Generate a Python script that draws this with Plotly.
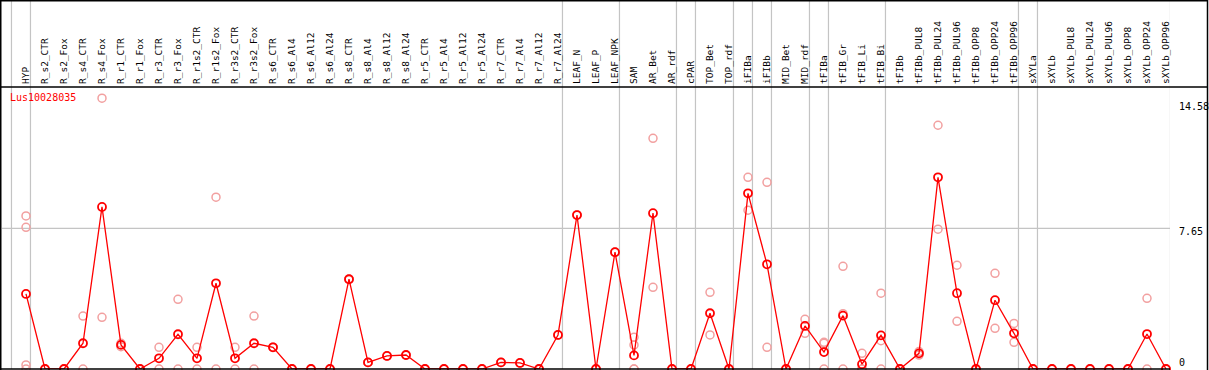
import plotly.graph_objects as go

categories = ["HYP", "R_s2_CTR", "R_s2_Fox", "R_s4_CTR", "R_s4_Fox", "R_r1_CTR", "R_r1_Fox",
              "R_r3_CTR", "R_r3_Fox", "R_r1s2_CTR", "R_r1s2_Fox", "R_r3s2_CTR", "R_r3s2_Fox",
              "R_s6_CTR", "R_s6_Al4", "R_s6_Al12", "R_s6_Al24", "R_s8_CTR", "R_s8_Al4", "R_s8_Al12",
              "R_s8_Al24", "R_r5_CTR", "R_r5_Al4", "R_r5_Al12", "R_r5_Al24", "R_r7_CTR", "R_r7_Al4",
              "R_r7_Al12", "R_r7_Al24", "LEAF_N", "LEAF_P", "LEAF_NPK", "SAM", "AR_Bet", "AR_rdf",
              "cPAR", "TOP_Bet", "TOP_rdf", "iFIBa", "iFIBb", "MID_Bet", "MID_rdf", "tFIBa",
              "tFIB_Gr", "tFIB_Li", "tFIB_Bi", "tFIBb", "tFIBb_PUL8", "tFIBb_PUL24", "tFIBb_PUL96",
              "tFIBb_OPP8", "tFIBb_OPP24", "tFIBb_OPP96", "sXYLa", "sXYLb", "sXYLb_PUL8",
              "sXYLb_PUL24", "sXYLb_PUL96", "sXYLb_OPP8", "sXYLb_OPP24", "sXYLb_OPP96"]

mean_values = [4.08, 0, 0, 1.40, 8.81, 1.31, 0, 0.58, 1.89, 0.58, 4.66, 0.58, 1.40,
               1.18, 0, 0, 0, 4.88, 0.36, 0.71, 0.76, 0, 0, 0, 0, 0.36, 0.33, 0, 1.85,
               8.37, 0, 6.35, 0.74, 8.47, 0, 0, 3.03, 0, 9.55, 5.69, 0, 2.34, 0.92,
               2.90, 0.26, 1.83, 0, 0.85, 10.42, 4.12, 0, 3.74, 1.94, 0, 0, 0, 0, 0, 0,
               1.90, 0]

replicate_values = [[8.32, 7.70, 0.22, 0], [0, 0], [0, 0], [2.88, 0], [14.72, 2.81],
                    [1.40, 1.21], [0, 0], [1.18, 0], [3.79, 0], [1.18, 0], [9.34, 0],
                    [1.18, 0], [2.88, 0], [1.18, 1.18], [0, 0], [0, 0], [0, 0],
                    [4.88, 4.88], [0.36, 0.36], [0.71, 0.71], [0.76, 0.76], [0, 0], [0, 0],
                    [0, 0], [0, 0], [0.36, 0.36], [0.33, 0.33], [0, 0], [1.85, 1.85],
                    [8.37, 8.37], [0, 0], [6.35, 6.35], [1.72, 1.31, 0, 0], [12.54, 4.44],
                    [0, 0], [0, 0], [4.17, 1.85], [0, 0], [10.42, 8.63], [10.15, 1.18],
                    [0, 0], [2.70, 1.94], [1.45, 1.40, 0], [5.58, 3.01, 0], [0.85, 0, 0],
                    [4.12, 1.54, 0], [0, 0], [0.95, 0.76], [13.25, 7.60], [5.64, 2.59],
                    [0, 0], [5.20, 2.21], [2.48, 1.45], [0, 0], [0, 0], [0, 0], [0, 0],
                    [0, 0], [0, 0], [3.84, 0], [0, 0]]

group_ends = [-1, 0, 28, 31, 34, 35, 37, 38, 39, 41, 42, 45, 52, 53, 60]
y_tick_values = [0, 7.65, 14.58]
y_tick_labels = ["0", "7.65", "14.58"]
series_name = "Lus10028035"

W, H = 1209, 370
ML, MR, MT, MB = 2, 39, 87, 1
PW = W - ML - MR
PH = H - MT - MB
x_lo = -24 / 19
x_hi = x_lo + PW / 19
y_hi = 15.33

def px_to_paper_x(p):
    return (p - ML) / PW

def px_to_paper_y(p):
    return (H - MB - p) / PH

mono = "DejaVu Sans Mono"

fig = go.Figure()

rep_x, rep_y = [], []
for i, reps in enumerate(replicate_values):
    for v in reps:
        rep_x.append(i)
        rep_y.append(v)

fig.add_trace(go.Scatter(
    x=rep_x, y=rep_y, mode="markers",
    marker=dict(symbol="circle-open", size=8, color="#F2A0A0", line=dict(width=1.5)),
    cliponaxis=False, showlegend=False, hoverinfo="skip"))

fig.add_trace(go.Scatter(
    x=list(range(len(categories))), y=mean_values, mode="lines+markers",
    line=dict(color="#FF0000", width=1.3),
    marker=dict(symbol="circle-open", size=8, color="#FF0000", line=dict(width=1.8)),
    cliponaxis=False, showlegend=False))

shapes = []
for g in group_ends:
    shapes.append(dict(type="line", xref="x", yref="paper", x0=g + 0.235, x1=g + 0.235,
                       y0=0, y1=px_to_paper_y(0), line=dict(color="#C4C4C4", width=1.2),
                       layer="below"))
shapes.append(dict(type="line", xref="paper", yref="y", x0=0, x1=1, y0=7.65, y1=7.65,
                   line=dict(color="#C4C4C4", width=1.2), layer="below"))
frame = dict(color="#000000", width=1.5)
shapes.append(dict(type="line", xref="paper", yref="paper", x0=px_to_paper_x(0.5), x1=px_to_paper_x(1208),
                   y0=px_to_paper_y(87), y1=px_to_paper_y(87), line=frame))
shapes.append(dict(type="line", xref="paper", yref="paper", x0=px_to_paper_x(0.5), x1=px_to_paper_x(1208),
                   y0=px_to_paper_y(0.75), y1=px_to_paper_y(0.75), line=frame))
shapes.append(dict(type="line", xref="paper", yref="paper", x0=px_to_paper_x(0.75), x1=px_to_paper_x(0.75),
                   y0=px_to_paper_y(0), y1=px_to_paper_y(370), line=frame))
shapes.append(dict(type="line", xref="paper", yref="paper", x0=px_to_paper_x(1207.5), x1=px_to_paper_x(1207.5),
                   y0=px_to_paper_y(0), y1=px_to_paper_y(370), line=frame))
shapes.append(dict(type="line", xref="paper", yref="paper", x0=px_to_paper_x(0), x1=px_to_paper_x(1170),
                   y0=px_to_paper_y(369), y1=px_to_paper_y(369), line=frame))

annotations = [dict(text=series_name, xref="paper", yref="paper", x=px_to_paper_x(8), y=px_to_paper_y(97),
                    xanchor="left", yanchor="middle", showarrow=False,
                    font=dict(family=mono, size=10, color="#FF0000"))]
y_shifts = [7, -3, -6]
for v, t, s in zip(y_tick_values, y_tick_labels, y_shifts):
    annotations.append(dict(text=t, xref="paper", yref="y", x=px_to_paper_x(1177), y=v, yshift=s,
                            xanchor="left", yanchor="middle", showarrow=False,
                            font=dict(family=mono, size=10, color="#000000")))

fig.update_layout(
    width=W, height=H,
    margin=dict(l=ML, r=MR, t=MT, b=MB, pad=0),
    paper_bgcolor="#FFFFFF", plot_bgcolor="#FFFFFF",
    shapes=shapes, annotations=annotations,
    xaxis=dict(range=[x_lo, x_hi], side="top", tickmode="array",
               tickvals=list(range(len(categories))), ticktext=categories,
               tickangle=-90, ticks="", showgrid=False, zeroline=False, showline=False,
               tickfont=dict(family=mono, size=9.5, color="#000000"), ticklabelstandoff=2),
    yaxis=dict(range=[0, y_hi], showgrid=False, zeroline=False, showline=False,
               showticklabels=False, ticks=""),
)

fig.write_html("out.html", config={"displayModeBar": False},
               post_script="document.body.style.margin='0';document.body.style.padding='0';document.body.style.overflow='hidden';")
